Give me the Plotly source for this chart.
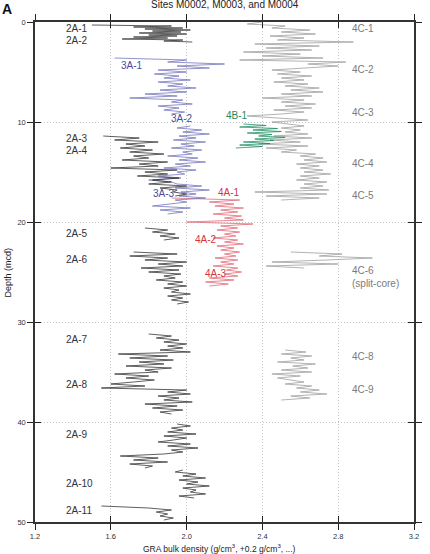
import plotly.graph_objects as go

# ---------------- data (depth in mcd, GRA density in g/cm3 with offsets) -------------
# Hole 2A (black)
d_2A_12 = [0.3,0.4,0.5,0.6,0.7,0.8,0.9,1.0,1.1,1.2,1.3,1.4,1.5,1.6,1.7,1.8,1.9,2.0]
v_2A_12 = [1.5,1.92,1.72,1.98,1.78,2.02,1.82,1.97,1.75,2.0,1.8,1.95,1.72,1.9,1.66,1.98,1.88,2.03]
d_2A_34 = [11.4,11.6,11.8,12.0,12.2,12.4,12.6,12.8,13.0,13.2,13.4,13.6,13.8,14.0,14.2,14.4,
           14.6,14.8,15.0,15.2,15.4,15.6,15.8,16.0,16.2,16.4,16.6,16.8,17.0,17.2,17.4]
v_2A_34 = [1.56,1.75,1.62,1.85,1.68,1.78,1.65,1.82,1.7,1.88,1.72,1.8,1.66,1.9,1.75,1.85,
           1.6,1.95,1.78,1.9,1.74,1.96,1.82,1.92,1.8,2.0,1.86,1.95,1.93,2.0,1.94]
d_2A_5 = [20.6,20.8,21.0,21.2,21.4,21.6,21.8]
v_2A_5 = [1.78,1.9,1.82,1.94,1.86,1.96,1.88]
d_2A_6 = [23.0,23.2,23.4,23.6,23.8,24.0,24.2,24.4,24.6,24.8,25.0,25.2,25.4,25.6,25.8,26.0,
          26.2,26.4,26.6,26.8,27.0,27.2,27.4,27.6,27.8,28.0,28.2]
v_2A_6 = [1.72,1.95,1.7,1.9,1.78,2.0,1.85,1.98,1.76,1.96,1.8,1.97,1.88,1.94,1.84,1.98,
          1.9,2.0,1.88,1.96,1.92,2.02,1.9,1.98,1.92,2.01,1.95]
d_2A_78 = [31.2,31.4,31.6,31.8,32.0,32.2,32.4,32.6,32.8,33.0,33.2,33.4,33.6,33.8,34.0,34.2,
           34.4,34.6,34.8,35.0,35.2,35.4,35.6,35.8,36.0,36.2,36.4,36.6,36.8,37.0,37.2,37.4,
           37.6,37.8,38.0,38.2,38.4,38.6,38.8,39.0,39.2]
v_2A_78 = [1.8,1.92,1.84,1.96,1.88,2.0,1.9,1.98,1.86,2.02,1.64,1.9,1.7,1.93,1.75,1.88,
           1.68,1.92,1.78,1.85,1.62,1.8,1.68,1.83,1.72,1.6,1.78,1.55,2.0,1.9,2.02,1.85,
           1.96,1.88,2.03,1.78,1.95,1.82,1.98,1.86,1.92]
d_2A_9 = [40.2,40.4,40.6,40.8,41.0,41.2,41.4,41.6,41.8,42.0,42.2,42.4,42.6,42.8,43.0,43.2,
          43.4,43.6,43.8,44.0,44.2,44.4,44.6]
v_2A_9 = [1.95,2.02,1.92,1.98,1.9,2.05,1.88,2.0,1.93,1.85,2.02,1.9,2.06,1.92,1.98,1.88,
          1.65,1.85,1.72,1.9,1.7,1.82,1.78]
d_2A_10 = [44.8,45.0,45.2,45.4,45.6,45.8,46.0,46.2,46.4,46.6,46.8,47.0,47.2,47.4,47.6]
v_2A_10 = [1.98,1.94,2.05,1.98,2.1,1.96,2.06,2.0,2.12,1.98,2.05,2.02,2.1,1.96,2.04]
d_2A_11 = [48.4,48.6,48.8,49.0,49.2,49.4,49.6,49.8]
v_2A_11 = [1.55,1.8,1.92,1.84,1.9,1.86,1.93,1.88]

# Hole 3A (blue)
d_3A_1 = [3.6,3.8,4.0,4.2,4.4,4.6,4.8,5.0,5.2,5.4,5.6,5.8,6.0,6.2,6.4,6.6,6.8,7.0,7.2,7.4,
          7.6,7.8,8.0,8.2,8.4,8.6,8.8,9.0,9.2]
v_3A_1 = [1.62,2.0,1.9,2.2,1.95,2.12,1.85,2.0,1.83,1.96,1.88,2.02,1.85,1.98,1.9,2.05,1.86,
          2.0,1.78,1.95,1.7,1.98,1.92,2.03,1.85,1.96,1.88,1.99,1.92]
d_3A_23 = [10.4,10.6,10.8,11.0,11.2,11.4,11.6,11.8,12.0,12.2,12.4,12.6,12.8,13.0,13.2,13.4,
           13.6,13.8,14.0,14.2,14.4,14.6,14.8,15.0,15.2,15.4,15.6,15.8,16.0,16.2,16.4,16.6,
           16.8,17.0,17.2,17.4,17.6,17.8,18.0,18.2,18.4,18.6,18.8,19.0,19.2]
v_3A_23 = [2.02,1.95,2.08,1.98,2.12,1.96,2.05,1.93,2.1,1.97,2.04,1.92,2.08,1.98,2.03,1.9,
           2.06,1.96,2.1,1.94,2.02,1.88,2.05,1.95,1.99,1.85,1.97,1.8,1.92,1.95,2.08,1.94,
           2.12,1.97,2.05,1.96,2.1,1.94,2.0,1.92,1.82,2.02,1.86,1.98,1.9]

# Hole 4A (red)
d_4A = [17.6,17.8,18.0,18.2,18.4,18.6,18.8,19.0,19.2,19.4,19.6,19.8,20.0,20.2,20.4,20.6,
        20.8,21.0,21.2,21.4,21.6,21.8,22.0,22.2,22.4,22.6,22.8,23.0,23.2,23.4,23.6,23.8,
        24.0,24.2,24.4,24.6,24.8,25.0,25.2,25.4,25.6,25.8,26.0,26.2,26.4]
v_4A = [1.92,2.28,2.12,2.25,2.15,2.3,2.18,2.27,2.14,2.29,2.2,2.3,2.0,2.35,2.18,2.27,
        2.16,2.28,2.2,2.26,2.14,2.27,2.2,2.3,2.16,2.25,2.18,2.28,2.2,2.26,2.15,2.27,
        2.18,2.25,2.14,2.27,2.21,2.29,2.2,2.27,2.12,2.25,2.1,2.22,2.12]

# Hole 4B (green)
d_4B = [10.2,10.35,10.5,10.65,10.8,10.95,11.1,11.25,11.4,11.55,11.7,11.85,12.0,12.15,12.3,12.45,12.6]
v_4B = [2.3,2.42,2.28,2.48,2.35,2.5,2.32,2.45,2.38,2.52,2.36,2.46,2.3,2.44,2.28,2.4,2.26]

# Hole 4C (gray)
d_4C_15 = [0.0,0.2,0.4,0.6,0.8,1.0,1.2,1.4,1.6,1.8,2.0,2.2,2.4,2.6,2.8,3.0,3.2,3.4,3.6,3.8,
           4.0,4.2,4.4,4.6,4.8,5.0,5.2,5.4,5.6,5.8,6.0,6.2,6.4,6.6,6.8,7.0,7.2,7.4,7.6,7.8,
           8.0,8.2,8.4,8.6,8.8,9.0,9.2,9.4,9.6,9.8,10.0,10.2,10.4,10.6,10.8,11.0,11.2,11.4,
           11.6,11.8,12.0,12.2,12.4,12.6,12.8,13.0,13.2,13.4,13.6,13.8,14.0,14.2,14.4,14.6,
           14.8,15.0,15.2,15.4,15.6,15.8,16.0,16.2,16.4,16.6,16.8,17.0,17.2,17.4,17.6,17.8]
v_4C_15 = [2.4,2.32,2.52,2.45,2.65,2.5,2.68,2.44,2.62,2.48,
           2.88,2.36,2.7,2.42,2.66,2.3,2.6,2.4,2.72,2.28,
           2.84,2.64,2.8,2.62,2.45,2.6,2.48,2.66,2.5,2.62,
           2.46,2.64,2.52,2.7,2.55,2.72,2.5,2.66,2.4,2.62,
           2.5,2.68,2.52,2.66,2.46,2.62,2.5,2.32,2.48,2.64,
           2.45,2.55,2.62,2.5,2.6,2.52,2.64,2.46,2.66,2.44,
           2.6,2.38,2.64,2.42,2.58,2.5,2.68,2.6,2.72,2.62,
           2.74,2.58,2.7,2.6,2.72,2.62,2.76,2.6,2.7,2.58,
           2.74,2.62,2.72,2.6,2.75,2.36,2.74,2.42,2.7,2.5]
d_4C_6 = [23.0,23.2,23.4,23.6,23.8,24.0,24.2,24.4,24.6]
v_4C_6 = [2.55,2.82,2.7,2.98,2.74,2.45,2.8,2.42,2.62]
d_4C_89 = [32.8,33.0,33.2,33.4,33.6,33.8,34.0,34.2,34.4,34.6,34.8,35.0,35.2,35.4,35.6,35.8,
           36.0,36.2,36.4,36.6,36.8,37.0,37.2,37.4,37.6,37.8]
v_4C_89 = [2.52,2.63,2.5,2.66,2.55,2.62,2.48,2.68,2.56,2.64,2.5,2.66,2.45,2.6,2.48,2.55,
           2.62,2.52,2.66,2.58,2.7,2.6,2.74,2.55,2.65,2.5]

# Section labels: (text, x, depth)
labels_2A = [("2A-1", 1.36, 0.6), ("2A-2", 1.36, 1.8), ("2A-3", 1.36, 11.65), ("2A-4", 1.36, 12.85),
             ("2A-5", 1.36, 21.1), ("2A-6", 1.36, 23.7), ("2A-7", 1.36, 31.7), ("2A-8", 1.36, 36.2),
             ("2A-9", 1.36, 41.2), ("2A-10", 1.36, 46.1), ("2A-11", 1.36, 48.8)]
labels_3A = [("3A-1", 1.65, 4.3), ("3A-2", 1.91, 9.6), ("3A-3", 1.815, 17.1)]
labels_4A = [("4A-1", 2.16, 17.0), ("4A-2", 2.04, 21.7), ("4A-3", 2.09, 25.1)]
labels_4B = [("4B-1", 2.2, 9.3)]
labels_4C = [("4C-1", 2.865, 0.6), ("4C-2", 2.865, 4.7), ("4C-3", 2.865, 9.0), ("4C-4", 2.865, 14.1),
             ("4C-5", 2.865, 17.3), ("4C-6", 2.865, 24.8), ("(split-core)", 2.865, 26.1),
             ("4C-8", 2.865, 33.4), ("4C-9", 2.865, 36.7)]

x_ticks = [1.2, 1.6, 2.0, 2.4, 2.8, 3.2]
y_ticks = [0, 10, 20, 30, 40, 50]

COL = {"2A": "#2a2a2a", "3A": "#6e6eb8", "4A": "#e2606f", "4B": "#178a5c", "4C": "#9a9a9a"}
LCOL = {"2A": "#333333", "3A": "#4b4b99", "4A": "#d3363f", "4B": "#1f8a5f", "4C": "#7a7a7a"}


def join(pairs):
    xs, ys = [], []
    for d, v in pairs:
        xs += list(v) + [None]
        ys += list(d) + [None]
    return xs, ys


series = {
    "4C": [(d_4C_15, v_4C_15), (d_4C_6, v_4C_6), (d_4C_89, v_4C_89)],
    "4B": [(d_4B, v_4B)],
    "4A": [(d_4A, v_4A)],
    "3A": [(d_3A_1, v_3A_1), (d_3A_23, v_3A_23)],
    "2A": [(d_2A_12, v_2A_12), (d_2A_34, v_2A_34), (d_2A_5, v_2A_5), (d_2A_6, v_2A_6),
           (d_2A_78, v_2A_78), (d_2A_9, v_2A_9), (d_2A_10, v_2A_10), (d_2A_11, v_2A_11)],
}

fig = go.Figure()
for key, pairs in series.items():
    xs, ys = join(pairs)
    fig.add_trace(go.Scatter(x=xs, y=ys, mode="lines", line=dict(color=COL[key], width=0.75),
                             showlegend=False, hoverinfo="skip", connectgaps=False))

# invisible trace to activate overlay axes (crossing ticks)
fig.add_trace(go.Scatter(x=[None], y=[None], xaxis="x2", yaxis="y2", showlegend=False))

FONT = "Liberation Sans, Arial, Helvetica, sans-serif"
ann = []
for key, labs in (("2A", labels_2A), ("3A", labels_3A), ("4A", labels_4A), ("4B", labels_4B), ("4C", labels_4C)):
    for t, x, d in labs:
        ann.append(dict(text=t, x=x, y=d, xref="x", yref="y", xanchor="left", yanchor="middle",
                        showarrow=False, borderpad=0,
                        font=dict(family=FONT, size=10, color=LCOL[key])))

ann += [
    dict(text="Sites M0002, M0003, and M0004", xref="paper", yref="paper", x=0.5, y=1.034,
         xanchor="center", yanchor="middle", showarrow=False, font=dict(family=FONT, size=10, color="#222")),
    dict(text="<b>A</b>", xref="paper", yref="paper", x=-0.092, y=1.046, xanchor="left", yanchor="top",
         showarrow=False, font=dict(family=FONT, size=14, color="#111")),
    dict(text="Depth (mcd)", xref="paper", yref="paper", x=-0.07, y=0.5, xanchor="center", yanchor="middle",
         textangle=-90, showarrow=False, font=dict(family=FONT, size=9, color="#222")),
    dict(text="GRA bulk density (g/cm<sup>3</sup>, +0.2 g/cm<sup>3</sup>, ...)", xref="paper", yref="paper",
         x=0.488, y=-0.052, xanchor="center", yanchor="middle", showarrow=False,
         font=dict(family=FONT, size=8.5, color="#222")),
]

axis_common = dict(showline=True, linewidth=1.5, linecolor="#333", mirror="allticks",
                   ticks="outside", ticklen=6, tickwidth=1.3, tickcolor="#222",
                   showgrid=True, gridcolor="#c4c4c4", griddash="1px,2px", gridwidth=1,
                   zeroline=False, tickfont=dict(family=FONT, size=7.5, color="#333"))
overlay_common = dict(showline=False, mirror="allticks", ticks="inside", ticklen=6, tickwidth=1.3,
                      tickcolor="#222", showgrid=False, zeroline=False, showticklabels=False)

fig.update_layout(
    width=430, height=554,
    margin=dict(l=35, r=8, t=22, b=32),
    paper_bgcolor="white", plot_bgcolor="white",
    xaxis=dict(range=[1.2, 3.2], tickvals=x_ticks, tickformat=".1f", **axis_common),
    yaxis=dict(range=[50, 0], tickvals=y_ticks, **axis_common),
    xaxis2=dict(range=[1.2, 3.2], tickvals=x_ticks, overlaying="x", anchor="y2", **overlay_common),
    yaxis2=dict(range=[50, 0], tickvals=y_ticks, overlaying="y", anchor="x2", **overlay_common),
    annotations=ann,
    showlegend=False,
)

fig.write_html("out.html")
